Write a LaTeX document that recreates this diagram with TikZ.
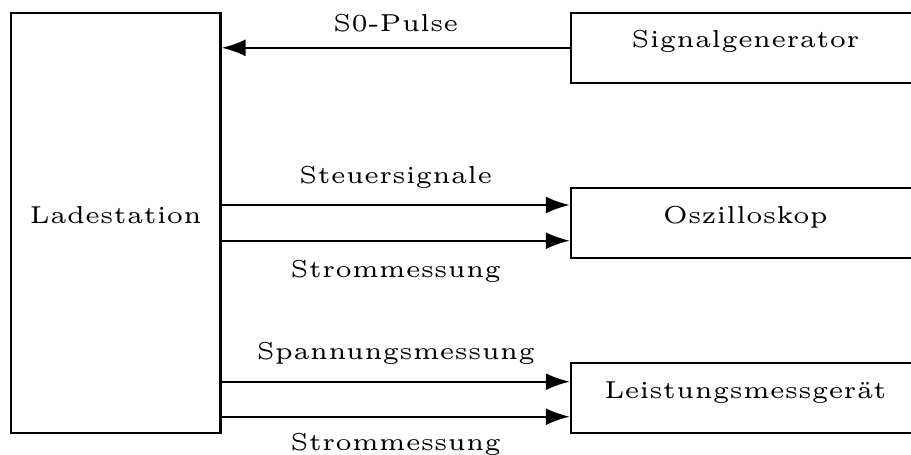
\documentclass[tikz,border=0pt]{standalone}
\usetikzlibrary{arrows.meta}
\newcommand{\mytxt}[1]{\scalebox{4.9}{\fontsize{5}{6}\selectfont #1}}
\begin{document}
\begin{tikzpicture}[x=1pt,y=-1pt,
  box/.style={draw, line width=2.3pt, inner sep=0pt, text height=20pt, text depth=20pt},
  arr/.style={line width=2.3pt, -{Latex[length=24pt,width=17pt]}},
  lbl/.style={inner sep=0pt, anchor=base}]
\useasboundingbox (0,0) rectangle (911,455);
\node[box, minimum width=209.5pt, minimum height=420pt] (lade) at (115.75,223) {\mytxt{Ladestation}};
\node[box, minimum width=349pt, minimum height=69.7pt] (sig) at (745.5,47.8) {\mytxt{Signalgenerator}};
\node[box, minimum width=349pt, minimum height=70pt] (osz) at (745.5,223.3) {\mytxt{Oszilloskop}};
\node[box, minimum width=349pt, minimum height=70pt] (leist) at (745.5,398.3) {\mytxt{Leistungsmessger\"at}};
\coordinate (o1) at ([yshift=18.3pt]osz.west);
\coordinate (o2) at ([yshift=-17.4pt]osz.west);
\coordinate (l1) at ([yshift=16.6pt]leist.west);
\coordinate (l2) at ([yshift=-18.4pt]leist.west);
\draw[arr] (sig.west) -- (lade.east |- sig.west)
  node[lbl, midway, yshift=16.5pt] {\mytxt{S0-Pulse}};
\draw[arr] (lade.east |- o1) -- (o1)
  node[lbl, midway, yshift=22pt] {\mytxt{Steuersignale}};
\draw[arr] (lade.east |- o2) -- (o2)
  node[lbl, midway, yshift=-37pt] {\mytxt{Strommessung}};
\draw[arr] (lade.east |- l1) -- (l1)
  node[lbl, midway, yshift=22.7pt] {\mytxt{Spannungsmessung}};
\draw[arr] (lade.east |- l2) -- (l2)
  node[lbl, midway, yshift=-33.3pt] {\mytxt{Strommessung}};
\end{tikzpicture}
\end{document}
